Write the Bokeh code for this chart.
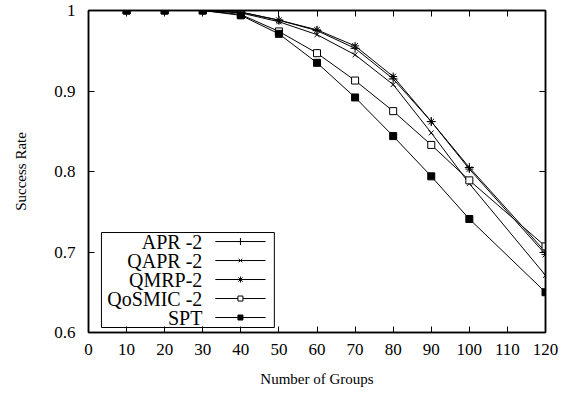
from bokeh.plotting import figure
from bokeh.models import FixedTicker, CustomJSTickFormatter, LinearAxis, Range1d
from bokeh.core.properties import value
from bokeh.embed import file_html
from bokeh.resources import INLINE

groups = [10, 20, 30, 40, 50, 60, 70, 80, 90, 100, 120]
apr = [1.0, 1.0, 1.0, 0.998, 0.988, 0.975, 0.953, 0.915, 0.862, 0.805, 0.700]
qapr = [1.0, 1.0, 1.0, 0.997, 0.986, 0.970, 0.945, 0.908, 0.848, 0.785, 0.671]
qmrp = [1.0, 1.0, 1.0, 0.998, 0.988, 0.976, 0.956, 0.918, 0.862, 0.803, 0.697]
qosmic = [1.0, 1.0, 1.0, 0.995, 0.974, 0.947, 0.913, 0.875, 0.833, 0.789, 0.707]
spt = [1.0, 1.0, 1.0, 0.994, 0.971, 0.935, 0.892, 0.844, 0.794, 0.741, 0.650]

series_names = ["APR -2", "QAPR -2", "QMRP-2", "QoSMIC -2", "SPT"]
x_ticks = [0, 10, 20, 30, 40, 50, 60, 70, 80, 90, 100, 110, 120]
y_ticks = [0.6, 0.7, 0.8, 0.9, 1.0]

FONT = "Liberation Serif"

p = figure(width=571, height=397, x_range=Range1d(0, 120), y_range=Range1d(0.6, 1.0),
           output_backend="svg", toolbar_location=None,
           min_border_left=88, min_border_right=26, min_border_top=10, min_border_bottom=65)
p.background_fill_color = "white"
p.border_fill_color = "white"
p.outline_line_color = "black"
p.outline_line_width = 1.5
p.xgrid.visible = False
p.ygrid.visible = False

fmt_y = CustomJSTickFormatter(code="return (Math.abs(tick-1)<1e-9) ? '1' : tick.toFixed(1);")
fmt_blank = CustomJSTickFormatter(code="return '';")

def style_axis(ax):
    ax.axis_line_color = "black"
    ax.axis_line_width = 1.5
    ax.major_tick_in = 6
    ax.major_tick_out = 0
    ax.minor_tick_in = 0
    ax.minor_tick_out = 0
    ax.major_tick_line_color = "black"
    ax.major_label_text_font = FONT
    ax.major_label_text_font_size = "17px"
    ax.major_label_text_color = "black"
    ax.axis_label_text_font = FONT
    ax.axis_label_text_font_size = "15px"
    ax.axis_label_text_font_style = "normal"
    ax.axis_label_text_color = "black"

p.xaxis.ticker = FixedTicker(ticks=x_ticks)
p.yaxis.ticker = FixedTicker(ticks=y_ticks)
p.yaxis.formatter = fmt_y
style_axis(p.xaxis[0])
style_axis(p.yaxis[0])
p.xaxis.axis_label = "Number of Groups"
p.yaxis.axis_label = "Success Rate"
p.xaxis.major_label_standoff = 11
p.yaxis.major_label_standoff = 13
p.xaxis.axis_label_standoff = 13
p.yaxis.axis_label_standoff = 22

top = LinearAxis(ticker=FixedTicker(ticks=x_ticks), formatter=fmt_blank)
style_axis(top)
top.major_label_standoff = 0
right = LinearAxis(ticker=FixedTicker(ticks=y_ticks), formatter=fmt_blank)
style_axis(right)
right.major_label_standoff = 0
p.add_layout(top, "above")
p.add_layout(right, "right")

all_series = [apr, qapr, qmrp, qosmic, spt]
markers = ["cross", "x", "asterisk", "square", "square"]
fills = ["black", "black", "black", "white", "black"]
sizes = [9, 7, 8, 7, 7]

for ys, mk, fc, sz in zip(all_series, markers, fills, sizes):
    p.line(groups, ys, line_color="black", line_width=1)
    p.scatter(groups, ys, marker=mk, size=sz, line_color="black", fill_color=fc, line_width=1)

# legend box (layout constants in data units)
lg_left, lg_right, lg_bottom, lg_top = 3.4, 48.8, 0.6062, 0.7242
p.quad(left=[lg_left], right=[lg_right], bottom=[lg_bottom], top=[lg_top],
       fill_color="white", line_color="black", line_width=1)
row_y0, row_dy = 0.7130, 0.0236
text_x, seg_x0, seg_x1, mk_x = 29.9, 33.3, 46.5, 39.9
for i, (name, mk, fc, sz) in enumerate(zip(series_names, markers, fills, sizes)):
    yy = row_y0 - i * row_dy
    p.text(x=[text_x], y=[yy], text=[name], text_align="right", text_baseline="middle",
           text_font=value(FONT), text_font_size="20px", text_color="black")
    p.segment(x0=[seg_x0], y0=[yy], x1=[seg_x1], y1=[yy], line_color="black", line_width=1)
    p.scatter([mk_x], [yy], marker=mk, size=sz - 2, line_color="black", fill_color=fc, line_width=1)

open("out.html", "w").write(file_html(p, INLINE))
